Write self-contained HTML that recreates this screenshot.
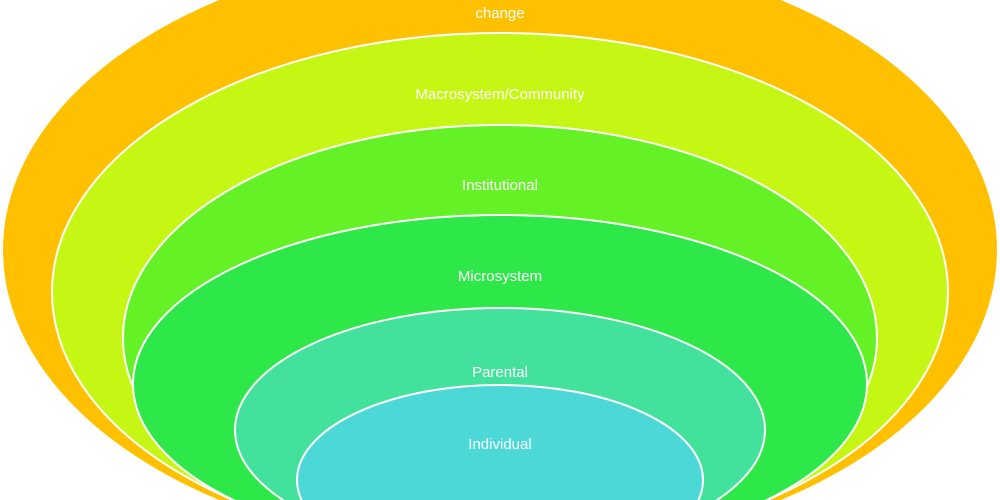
<!DOCTYPE html>
<html><head><style>
html,body{margin:0;padding:0;background:#fff;overflow:hidden;}
svg{display:block;}
text{font-family:"Liberation Sans",sans-serif;font-size:15px;fill:#fff;text-anchor:middle;}
</style></head><body>
<svg width="1000" height="500" viewBox="0 0 1000 500">
<ellipse cx="500" cy="250" rx="497" ry="303" fill="#FFC000"/>
<ellipse cx="500" cy="292" rx="448" ry="259" fill="#C6F714" stroke="#fff" stroke-width="2"/>
<ellipse cx="500" cy="338" rx="377" ry="213" fill="#64F125" stroke="#fff" stroke-width="2"/>
<ellipse cx="500" cy="384" rx="367" ry="169" fill="#2EE84A" stroke="#fff" stroke-width="2"/>
<ellipse cx="500" cy="430" rx="265" ry="122" fill="#42E29C" stroke="#fff" stroke-width="2"/>
<ellipse cx="500" cy="480" rx="203" ry="95" fill="#4DD8D8" stroke="#fff" stroke-width="2"/>
<text x="500" y="-4">Chronosystem: technology, policies, societal and political</text>
<text x="500" y="18">change</text>
<text x="500" y="99">Macrosystem/Community</text>
<text x="500" y="190">Institutional</text>
<text x="500" y="281">Microsystem</text>
<text x="500" y="377">Parental</text>
<text x="500" y="449">Individual</text>
</svg>
</body></html>
